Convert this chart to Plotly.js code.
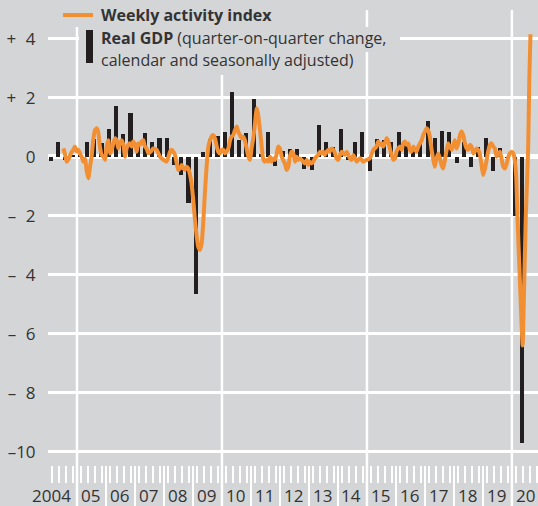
<!DOCTYPE html>
<html>
<head>
<meta charset="utf-8">
<script src="https://cdn.plot.ly/plotly-3.0.1.min.js"></script>
<style>
  html, body { margin: 0; padding: 0; background: #d4d5d7; }
  #chart { width: 538px; height: 506px; }
</style>
</head>
<body>
<div id="chart"></div>
<script>
// ---- Data ----
// Real GDP, quarter-on-quarter change (%), 2004Q1 .. 2020Q2
const gdpStartYear = 2004;
const gdpValues = [
  -0.15, 0.5, -0.1, 0.05,   // 2004
  0.05, 0.5, 0.6, 0.45,     // 2005
  0.93, 1.7, 0.76, 1.47,    // 2006
  0.4, 0.8, 0.49, 0.64,     // 2007
  0.62, -0.28, -0.62, -1.58,// 2008
  -4.67, 0.15, 0.6, 0.7,    // 2009
  0.83, 2.2, 0.55, 0.79,    // 2010
  1.95, 0.1, 0.85, -0.3,    // 2011
  0.2, 0.25, 0.25, -0.43,   // 2012
  -0.45, 1.07, 0.5, 0.33,   // 2013
  0.94, -0.1, 0.5, 0.82,    // 2014
  -0.5, 0.6, 0.55, 0.5,     // 2015
  0.85, 0.5, 0.22, 0.42,    // 2016
  1.22, 0.62, 0.87, 0.82,   // 2017
  -0.2, 0.5, -0.34, 0.32,   // 2018
  0.62, -0.5, 0.28, -0.05,  // 2019
  -2.0, -9.7                // 2020
];

// Weekly activity index (time in decimal years, value)
const waiTime = [
  2004.53, 2004.59, 2004.64, 2004.72, 2004.79, 2004.87, 2004.93, 2004.99,
  2005.05, 2005.10, 2005.16, 2005.22, 2005.28, 2005.33, 2005.39, 2005.45,
  2005.51, 2005.56, 2005.62, 2005.68, 2005.73, 2005.79, 2005.85, 2005.91,
  2005.97, 2006.02, 2006.08, 2006.14, 2006.20, 2006.25, 2006.31, 2006.37,
  2006.42, 2006.48, 2006.54, 2006.60, 2006.66, 2006.71, 2006.77, 2006.83,
  2006.89, 2006.94, 2007.00, 2007.06, 2007.11, 2007.17, 2007.23, 2007.29,
  2007.34, 2007.40, 2007.46, 2007.52, 2007.57, 2007.63, 2007.75, 2007.86,
  2007.98, 2008.09, 2008.21, 2008.27, 2008.32, 2008.38, 2008.44, 2008.49,
  2008.55, 2008.61, 2008.67, 2008.72, 2008.78, 2008.84, 2008.90, 2008.95,
  2009.01, 2009.07, 2009.13, 2009.18, 2009.24, 2009.30, 2009.36, 2009.41,
  2009.47, 2009.53, 2009.59, 2009.64, 2009.70, 2009.76, 2009.82, 2009.87,
  2009.93, 2009.99, 2010.05, 2010.10, 2010.16, 2010.22, 2010.28, 2010.33,
  2010.39, 2010.45, 2010.51, 2010.56, 2010.62, 2010.68, 2010.74, 2010.79,
  2010.85, 2010.91, 2010.97, 2011.02, 2011.08, 2011.14, 2011.20, 2011.25,
  2011.31, 2011.37, 2011.42, 2011.48, 2011.54, 2011.60, 2011.66, 2011.71,
  2011.77, 2011.83, 2011.89, 2011.94, 2012.00, 2012.06, 2012.11, 2012.17,
  2012.23, 2012.29, 2012.34, 2012.40, 2012.46, 2012.52, 2012.58, 2012.63,
  2012.69, 2012.75, 2012.80, 2012.86, 2012.92, 2012.98, 2013.03, 2013.09,
  2013.15, 2013.21, 2013.26, 2013.32, 2013.38, 2013.44, 2013.49, 2013.55,
  2013.61, 2013.67, 2013.72, 2013.78, 2013.84, 2013.90, 2013.95, 2014.01,
  2014.07, 2014.13, 2014.18, 2014.24, 2014.30, 2014.36, 2014.41, 2014.47,
  2014.53, 2014.59, 2014.65, 2014.70, 2014.76, 2014.87, 2014.99, 2015.10,
  2015.22, 2015.33, 2015.39, 2015.45, 2015.51, 2015.56, 2015.62, 2015.68,
  2015.74, 2015.79, 2015.85, 2015.91, 2015.97, 2016.02, 2016.08, 2016.14,
  2016.20, 2016.25, 2016.31, 2016.37, 2016.43, 2016.48, 2016.54, 2016.60,
  2016.66, 2016.71, 2016.77, 2016.83, 2016.89, 2016.94, 2017.00, 2017.06,
  2017.11, 2017.17, 2017.23, 2017.29, 2017.34, 2017.40, 2017.46, 2017.52,
  2017.57, 2017.63, 2017.69, 2017.75, 2017.80, 2017.86, 2017.92, 2017.98,
  2018.03, 2018.09, 2018.15, 2018.21, 2018.26, 2018.32, 2018.38, 2018.44,
  2018.49, 2018.55, 2018.61, 2018.67, 2018.72, 2018.78, 2018.84, 2018.90,
  2018.96, 2019.01, 2019.07, 2019.13, 2019.18, 2019.24, 2019.30, 2019.36,
  2019.41, 2019.47, 2019.53, 2019.59, 2019.65, 2019.70, 2019.76, 2019.82,
  2019.88, 2019.93, 2019.99, 2020.05, 2020.10, 2020.15, 2020.19, 2020.28,
  2020.37, 2020.41, 2020.48, 2020.56, 2020.60, 2020.64
];
const waiValues = [
  0.28, 0.06, -0.17, -0.06, 0.11, 0.23, 0.34, 0.17,
  0.23, 0.11, 0.0, -0.17, -0.06, -0.45, -0.73, -0.34,
  0.06, 0.56, 0.90, 0.96, 0.85, 0.34, 0.06, 0.0,
  -0.11, 0.34, 0.56, 0.11, 0.23, 0.45, 0.62, 0.56,
  0.28, 0.45, 0.56, 0.40, 0.0, 0.28, 0.40, 0.45,
  0.34, 0.51, 0.40, 0.17, 0.45, 0.40, 0.51, 0.56,
  0.34, 0.28, 0.11, 0.15, 0.20, 0.28, 0.23, 0.0,
  -0.11, -0.17, 0.17, 0.23, 0.17, 0.06, -0.23, -0.45,
  -0.40, -0.28, -0.40, -0.45, -0.34, -0.40, -0.62, -0.90,
  -1.47, -2.15, -2.71, -3.05, -3.16, -2.94, -2.15, -1.24,
  -0.34, 0.34, 0.56, 0.68, 0.73, 0.62, 0.34, 0.17,
  0.11, 0.23, 0.23, 0.11, 0.17, 0.28, 0.56, 0.68,
  0.73, 0.90, 1.02, 0.85, 0.73, 0.62, 0.68, 0.56,
  0.28, 0.0, -0.11, 0.28, 0.62, 1.13, 1.64, 1.41,
  0.90, 0.34, -0.06, -0.17, -0.11, -0.17, 0.0, -0.17,
  -0.06, -0.11, 0.11, 0.34, 0.28, 0.0, -0.11, -0.23,
  -0.45, -0.34, 0.0, 0.17, 0.11, -0.17, 0.0, -0.11,
  -0.06, -0.11, -0.17, -0.23, -0.11, -0.28, -0.17, -0.23,
  -0.17, -0.06, 0.0, 0.06, 0.17, 0.11, 0.17, 0.06,
  0.17, 0.23, 0.17, 0.28, 0.23, 0.11, -0.06, -0.11,
  0.06, 0.17, 0.11, 0.06, 0.17, 0.06, -0.06, -0.11,
  0.06, -0.06, -0.17, -0.11, -0.05, -0.17, -0.11, -0.06,
  0.23, 0.34, 0.51, 0.40, 0.45, 0.34, 0.45, 0.62,
  0.51, 0.28, 0.06, -0.11, -0.06, 0.17, 0.28, 0.34,
  0.23, 0.45, 0.51, 0.40, 0.45, 0.23, 0.17, 0.34,
  0.23, 0.17, 0.34, 0.45, 0.56, 0.73, 0.85, 0.96,
  0.90, 0.68, 0.23, -0.11, -0.34, -0.06, 0.11, -0.06,
  -0.28, -0.40, -0.11, 0.23, 0.45, 0.34, 0.23, 0.40,
  0.56, 0.28, 0.45, 0.73, 0.85, 0.73, 0.45, 0.28,
  0.23, 0.40, 0.34, 0.11, 0.17, 0.28, 0.23, 0.06,
  -0.34, -0.62, -0.40, -0.11, 0.17, 0.40, 0.45, 0.34,
  0.28, 0.0, 0.11, 0.17, -0.11, -0.34, -0.40, -0.23,
  0.0, 0.11, 0.17, 0.11, -0.12, -0.70, -2.0, -4.3,
  -6.4, -4.9, -2.0, 0.23, 2.6, 4.15
];

// Axis labels
const yTickValues = [4, 2, 0, -2, -4, -6, -8, -10];
const yTickLabels = ['+\u20074', '+\u20072', '0', '\u2013\u20072', '\u2013\u20074', '\u2013\u20076', '\u2013\u20078', '\u201310'];
const labelYears = [2004, 2005, 2006, 2007, 2008, 2009, 2010, 2011, 2012,
                    2013, 2014, 2015, 2016, 2017, 2018, 2019, 2020];
const yearLabels = ['2004', '05', '06', '07', '08', '09', '10', '11', '12',
                    '13', '14', '15', '16', '17', '18', '19', '20'];
const gridYears = [2005, 2010, 2015, 2020];

// Legend texts
const legendLine = '<b>Weekly activity index</b>';
const legendBar1 = '<b>Real GDP</b> (quarter-on-quarter change,';
const legendBar2 = 'calendar and seasonally adjusted)';

// ---- Style ----
const BG = '#d4d5d7';
const ORANGE = '#f38f33';
const BAR = '#231f20';
const TXT = '#333333';
const FONT = 'Open Sans, Noto Sans, sans-serif';

const W = 538, H = 506;
const M = {l: 48, r: 0, t: 10, b: 41};
const PW = W - M.l - M.r, PH = H - M.t - M.b;
const px = v => (v - M.l) / PW;          // pixel x -> paper x
const py = v => 1 - (v - M.t) / PH;      // pixel y -> paper y

const gdpX = gdpValues.map((_, i) => gdpStartYear + (i + 0.5) / 4 - 0.03);

const traces = [
  {
    type: 'bar', x: gdpX, y: gdpValues, width: 0.14,
    marker: {color: BAR, line: {width: 0}},
    hoverinfo: 'skip', showlegend: false
  },
  {
    type: 'scatter', mode: 'lines', x: waiTime, y: waiValues,
    line: {color: ORANGE, width: 4, shape: 'spline', smoothing: 0.5},
    hoverinfo: 'skip', showlegend: false
  }
];

const shapes = [];
gridYears.forEach(yr => shapes.push({
  type: 'line', xref: 'x', yref: 'paper', x0: yr, x1: yr, y0: py(H), y1: 1,
  line: {color: 'white', width: 2.5}, layer: 'below'
}));
// legend background boxes
shapes.push({type: 'rect', xref: 'paper', yref: 'paper', x0: px(60), x1: px(300), y0: py(27), y1: py(0),
  fillcolor: BG, line: {width: 0}, layer: 'above'});
shapes.push({type: 'rect', xref: 'paper', yref: 'paper', x0: px(79), x1: px(400), y0: py(52), y1: py(27),
  fillcolor: BG, line: {width: 0}, layer: 'above'});
shapes.push({type: 'rect', xref: 'paper', yref: 'paper', x0: px(79), x1: px(360), y0: py(75), y1: py(52),
  fillcolor: BG, line: {width: 0}, layer: 'above'});
// legend keys
shapes.push({type: 'line', xref: 'paper', yref: 'paper', x0: px(63), x1: px(93), y0: py(15), y1: py(15),
  line: {color: ORANGE, width: 4}, layer: 'above'});
shapes.push({type: 'rect', xref: 'paper', yref: 'paper', x0: px(86), x1: px(93), y0: py(63), y1: py(30),
  fillcolor: BAR, line: {width: 0}, layer: 'above'});

const annotations = [
  {text: legendLine, xref: 'paper', yref: 'paper', x: px(99), y: py(15), xanchor: 'left', yanchor: 'middle',
   showarrow: false, font: {size: 16, color: TXT, family: FONT}},
  {text: legendBar1, xref: 'paper', yref: 'paper', x: px(99), y: py(37.5), xanchor: 'left', yanchor: 'middle',
   showarrow: false, font: {size: 16, color: TXT, family: FONT}},
  {text: legendBar2, xref: 'paper', yref: 'paper', x: px(99), y: py(60), xanchor: 'left', yanchor: 'middle',
   showarrow: false, font: {size: 16, color: TXT, family: FONT}}
];
labelYears.forEach((yr, i) => annotations.push({
  text: yearLabels[i], xref: 'x', yref: 'paper', x: yr + 1 - 0.15, y: py(495),
  xanchor: 'right', yanchor: 'middle', showarrow: false,
  font: {size: 17, color: TXT, family: FONT}
}));

const layout = {
  width: W, height: H,
  margin: M,
  paper_bgcolor: BG, plot_bgcolor: BG,
  font: {family: FONT, color: TXT},
  showlegend: false,
  bargap: 0,
  xaxis: {
    range: [2004, 2020.9], fixedrange: true,
    tickmode: 'array', tickvals: labelYears.slice(1),
    ticks: 'outside', ticklen: 41, tickwidth: 1.5, tickcolor: 'white',
    showticklabels: false, showgrid: false, zeroline: false, showline: false,
    minor: {tickmode: 'linear', tick0: 2004.125, dtick: 0.25, ticks: 'outside',
            ticklen: 17, tickwidth: 2, tickcolor: 'white', showgrid: false}
  },
  yaxis: {
    range: [-10.45, 4.97], fixedrange: true,
    tickmode: 'array', tickvals: yTickValues, ticktext: yTickLabels,
    ticks: 'outside', ticklen: 8, tickcolor: 'rgba(0,0,0,0)',
    tickfont: {size: 17, color: TXT, family: FONT},
    showgrid: true, gridcolor: 'white', gridwidth: 2.5,
    zeroline: true, zerolinecolor: 'white', zerolinewidth: 5, showline: false
  },
  shapes: shapes,
  annotations: annotations
};

Plotly.newPlot('chart', traces, layout, {displayModeBar: false, staticPlot: true});
</script>
</body>
</html>
